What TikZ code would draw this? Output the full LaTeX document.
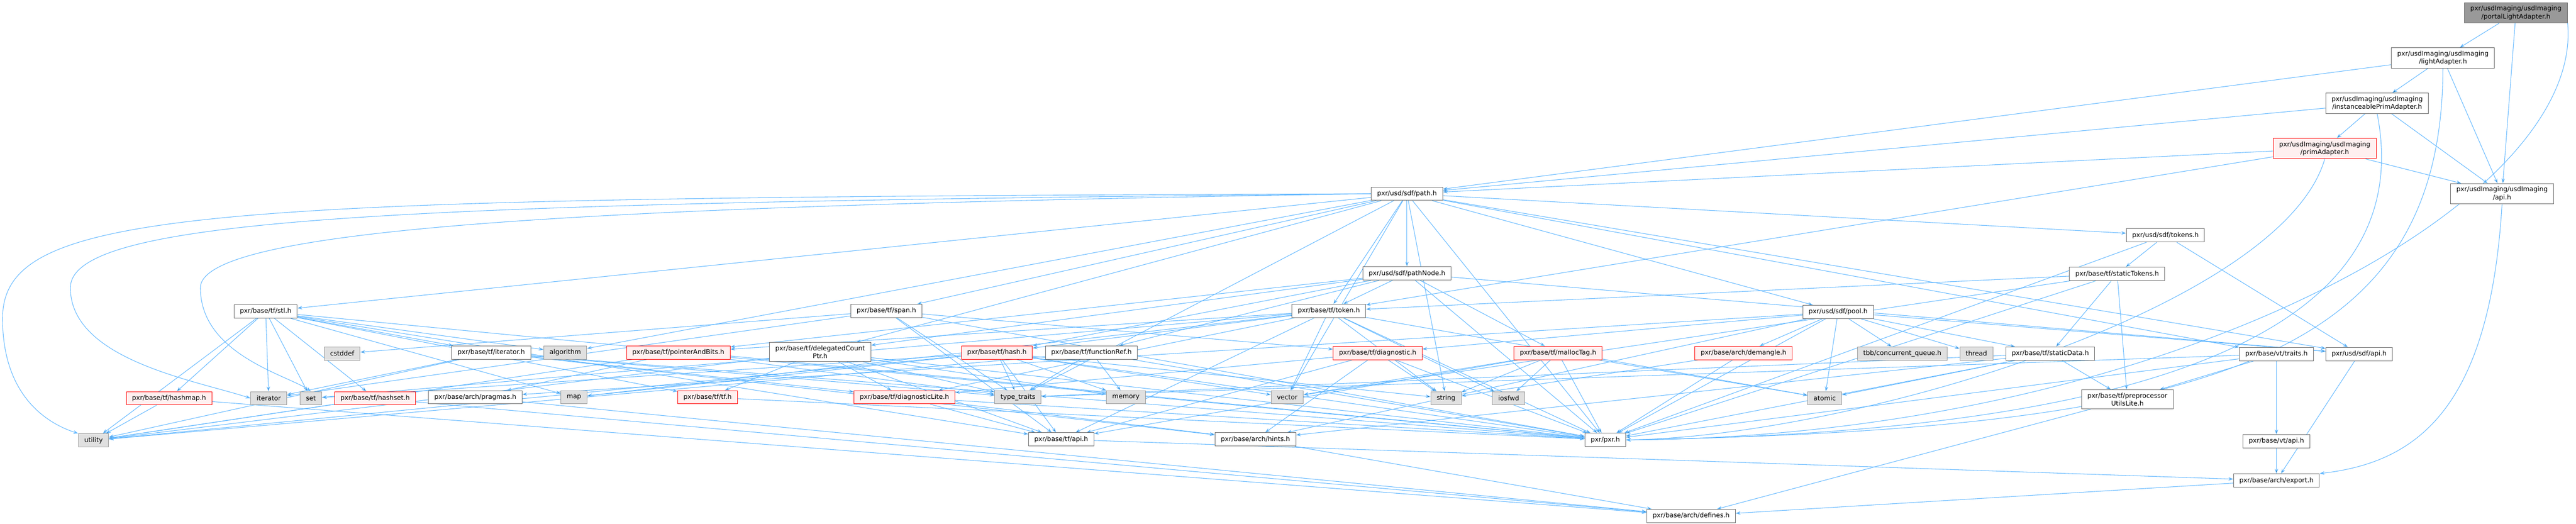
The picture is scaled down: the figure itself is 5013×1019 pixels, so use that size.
\documentclass[tikz,border=0pt]{standalone}
\usepackage{fontspec}
\setmainfont{DejaVu Sans}
\usepackage{tikz}
\usetikzlibrary{arrows.meta,positioning,backgrounds,calc}

\definecolor{edgeblue}{HTML}{63B8FF}
\definecolor{boxline}{HTML}{666666}
\definecolor{extfill}{HTML}{E0E0E0}
\definecolor{extline}{HTML}{999999}
\definecolor{truncfill}{HTML}{FFF0F0}
\definecolor{truncline}{HTML}{FF0000}
\definecolor{rootfill}{HTML}{999999}

\begin{document}
\begin{tikzpicture}[
    x=0.75pt, y=-0.75pt,
    box/.style={rectangle, draw=boxline, fill=white, line width=0.75pt, minimum height=19.5pt, inner xsep=8.5pt, inner ysep=4.5pt, align=center, font=\fontsize{9.5}{11.5}\selectfont},
    ext/.style={box, draw=extline, fill=extfill},
    trunc/.style={box, draw=truncline, fill=truncfill},
    root/.style={box, fill=rootfill},
    arrow/.style={->, >={Stealth[length=7pt, width=5pt]}, draw=edgeblue, line width=0.8pt}
]
\useasboundingbox (0,0) rectangle (5013,1019);

% usdImaging headers
\node[root] (portal) at (4896,25) {pxr/usdImaging/usdImaging\\/portalLightAdapter.h};
\node[box] (light) at (4754,113) {pxr/usdImaging/usdImaging\\/lightAdapter.h};
\node[box] (inst) at (4626,201) {pxr/usdImaging/usdImaging\\/instanceablePrimAdapter.h};
\node[trunc] (prim) at (4524,289) {pxr/usdImaging/usdImaging\\/primAdapter.h};
\node[box] (uiapi) at (4869,377) {pxr/usdImaging/usdImaging\\/api.h};

% sdf headers
\node[box] (path) at (2738,377) {pxr/usd/sdf/path.h};
\node[box] (tokens) at (4214,458) {pxr/usd/sdf/tokens.h};
\node[box] (statictokens) at (4120,533) {pxr/base/tf/staticTokens.h};
\node[box] (pathnode) at (2738,532) {pxr/usd/sdf/pathNode.h};

% first row of tf
\node[box] (stl) at (517,606) {pxr/base/tf/stl.h};
\node[box] (span) at (1725,605) {pxr/base/tf/span.h};
\node[box] (token) at (2586,605) {pxr/base/tf/token.h};
\node[box] (pool) at (3577,607) {pxr/usd/sdf/pool.h};

% second row
\node[ext] (cstddef) at (666,688) {cstddef};
\node[box] (iteratorh) at (956,686) {pxr/base/tf/iterator.h};
\node[ext] (algorithm) at (1100,686) {algorithm};
\node[trunc] (pointerandbits) at (1320,686) {pxr/base/tf/pointerAndBits.h};
\node[box] (delegated) at (1596,685) {pxr/base/tf/delegatedCount\\Ptr.h};
\node[trunc] (hash) at (1940,686) {pxr/base/tf/hash.h};
\node[box] (functionref) at (2124,686) {pxr/base/tf/functionRef.h};
\node[trunc] (diagnostic) at (2681,687) {pxr/base/tf/diagnostic.h};
\node[trunc] (malloctag) at (3032,687) {pxr/base/tf/mallocTag.h};
\node[trunc] (demangle) at (3393,687) {pxr/base/arch/demangle.h};
\node[ext] (tbbqueue) at (3702,688) {tbb/concurrent\_queue.h};
\node[ext] (thread) at (3846,688) {thread};
\node[box] (staticdata) at (3990,688) {pxr/base/tf/staticData.h};
\node[box] (vttraits) at (4430,689) {pxr/base/vt/traits.h};
\node[box] (sdfapi) at (4591,689) {pxr/usd/sdf/api.h};

% third row
\node[trunc] (hashmap) at (329,775) {pxr/base/tf/hashmap.h};
\node[ext] (iterator) at (523,775) {iterator};
\node[ext] (set) at (605,775) {set};
\node[trunc] (hashset) at (730,775) {pxr/base/tf/hashset.h};
\node[box] (pragmas) at (925,773) {pxr/base/arch/pragmas.h};
\node[ext] (map) at (1117,773) {map};
\node[trunc] (tftf) at (1377,773) {pxr/base/tf/tf.h};
\node[trunc] (diaglite) at (1760,773) {pxr/base/tf/diagnosticLite.h};
\node[ext] (typetraits) at (1981,773) {type\_traits};
\node[ext] (memory) at (2191,773) {memory};
\node[ext] (vector) at (2505,773) {vector};
\node[ext] (string) at (2814,775) {string};
\node[ext] (iosfwd) at (2936,775) {iosfwd};
\node[ext] (atomic) at (3551,775) {atomic};
\node[box] (preproc) at (4140,777) {pxr/base/tf/preprocessor\\UtilsLite.h};

% bottom rows
\node[ext] (utility) at (182,857) {utility};
\node[box] (tfapi) at (2065,855) {pxr/base/tf/api.h};
\node[box] (hints) at (2443,855) {pxr/base/arch/hints.h};
\node[box] (pxr) at (3124,856) {pxr/pxr.h};
\node[box, below=107pt of vttraits] (vtapi) {pxr/base/vt/api.h};
\node[box, below=37pt of vtapi] (export) {pxr/base/arch/export.h};
\node[box] (defines) at (3291,1004) {pxr/base/arch/defines.h};

% Arrows
\begin{scope}[on background layer]
\draw[arrow] (portal) edge (light) edge (uiapi);
\draw[arrow] (portal.south east) .. controls (5030,400) and (4200,850) .. (pxr.east);
\draw[arrow] (light) edge (path) edge (inst) edge (uiapi);
\draw[arrow] (light.south) .. controls (4752,700) and (4300,835) .. (pxr.east);
\draw[arrow] (inst) edge (path) edge (prim) edge (uiapi);
\draw[arrow] (inst.south) .. controls (4700,600) and (4300,840) .. (pxr.east);
\draw[arrow] (prim) edge (path) edge (token) edge (uiapi);
\draw[arrow] (prim.south) .. controls (4440,600) and (3600,850) .. (pxr.east);
\draw[arrow] (uiapi.south) .. controls (4845,800) and (4700,900) .. (export.north east);

% from path.h
\draw[arrow] (path) edge (pathnode) edge (tokens) edge (pool) edge (span) edge (stl) edge (token) edge (delegated) edge (vttraits) edge (sdfapi) edge (pxr) edge (algorithm) edge (string) edge (typetraits) edge (vector);
\draw[arrow] (path.west) .. controls (400,385) and (5,400) .. (5,620) .. controls (5,760) and (80,820) .. (utility.north west);
\draw[arrow] (path.west) .. controls (800,395) and (137,420) .. (137,560) .. controls (137,700) and (380,740) .. (iterator.west);
\draw[arrow] (path.west) .. controls (1200,400) and (390,440) .. (390,560) .. controls (390,690) and (560,730) .. (set.north);

% sdf and tf headers
\draw[arrow] (tokens) edge (statictokens) edge (sdfapi) edge (pxr);
\draw[arrow] (statictokens) edge (staticdata) edge (preproc) edge (token) edge (vector) edge (pxr);
\draw[arrow] (pathnode) edge (token) edge (delegated) edge (functionref) edge (hash) edge (malloctag) edge (sdfapi) edge (pxr) edge (pointerandbits);
\draw[arrow] (stl) edge (utility) edge (hashmap) edge (iterator) edge (set) edge (hashset) edge (algorithm) edge (map) edge (iteratorh) edge (tftf) edge (pxr) edge (tfapi);
\draw[arrow] (span) edge (diagnostic) edge (cstddef) edge (iterator) edge (typetraits) edge (pxr) edge (tfapi);
\draw[arrow] (token) edge (pointerandbits) edge (hash) edge (diaglite) edge (string) edge (iosfwd) edge (atomic) edge (vector) edge (pxr) edge (tfapi) edge (set) edge (map);
\draw[arrow] (pool) edge (tbbqueue) edge (thread) edge (staticdata) edge (atomic) edge (sdfapi) edge (diagnostic) edge (demangle) edge (hints) edge (pragmas) edge (pxr);
\draw[arrow] (iteratorh) edge (hints) edge (diaglite) edge (iterator) edge (typetraits) edge (utility) edge (pxr);
\draw[arrow] (pointerandbits) edge (pragmas) edge (typetraits) edge (utility) edge (pxr);
\draw[arrow] (delegated) edge (tftf) edge (diaglite) edge (memory) edge (typetraits) edge (utility) edge (pxr) edge (tfapi);
\draw[arrow] (hash) edge (typetraits) edge (memory) edge (map) edge (set) edge (string) edge (vector) edge (utility) edge (pxr) edge (tfapi);
\draw[arrow] (functionref) edge (typetraits) edge (memory) edge (utility) edge (pxr);
\draw[arrow] (diagnostic) edge (diaglite) edge (string) edge (pxr) edge (tfapi) edge (hints);
\draw[arrow] (malloctag) edge (string) edge (iosfwd) edge (atomic) edge (pxr) edge (tfapi) edge (vector);
\draw[arrow] (demangle) edge (string) edge (pxr);
\draw[arrow] (staticdata) edge (preproc) edge (atomic) edge (hints) edge (typetraits) edge (pxr);
\draw[arrow] (vttraits) edge (preproc) edge (vtapi) edge (typetraits) edge (pxr);
\draw[arrow] (sdfapi) edge (export);

% arch headers
\draw[arrow] (hashmap) edge (defines) edge (utility);
\draw[arrow] (hashset) edge (defines) edge (utility);
\draw[arrow] (pragmas) edge (defines);
\draw[arrow] (tftf) edge (pxr);
\draw[arrow] (diaglite) edge (tfapi) edge (hints) edge (pxr);
\draw[arrow] (tfapi) edge (export);
\draw[arrow] (hints) edge (defines);
\draw[arrow] (preproc) edge (defines);
\draw[arrow] (vtapi) edge (export);
\draw[arrow] (export) edge (defines);
\end{scope}

\end{tikzpicture}
\end{document}
